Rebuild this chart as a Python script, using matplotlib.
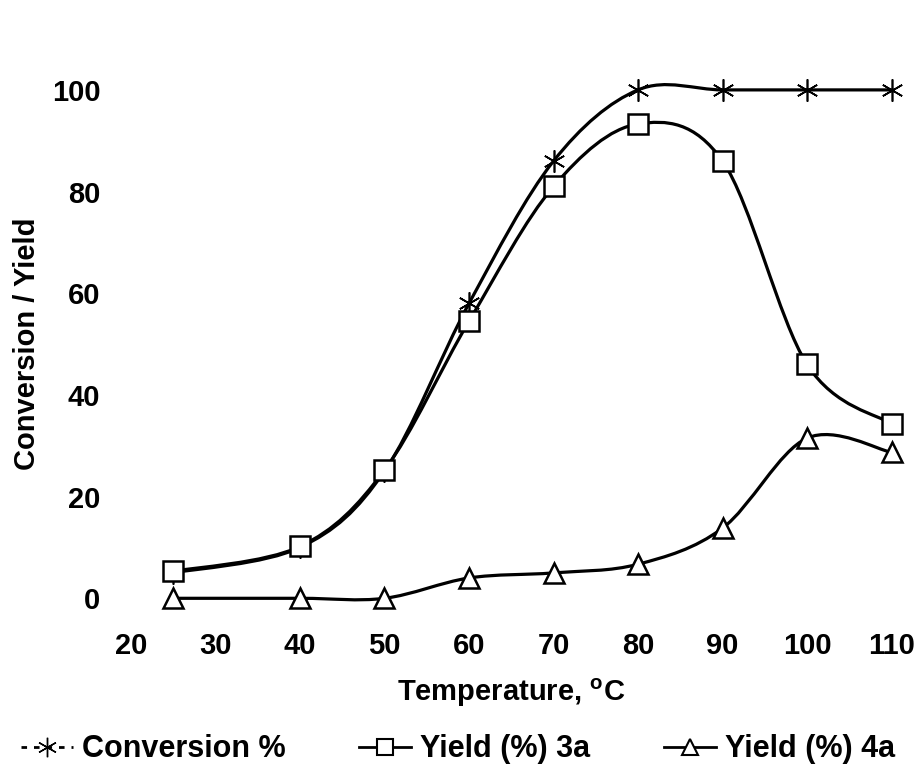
import matplotlib.pyplot as plt
import numpy as np
from matplotlib.path import Path
from matplotlib.patches import PathPatch
from matplotlib.lines import Line2D

plt.rcParams['font.family'] = ['Liberation Sans', 'DejaVu Sans']
plt.rcParams['font.weight'] = 'bold'

# Data
temperature = [25, 40, 50, 60, 70, 80, 90, 100, 110]
conversion = [5, 10, 25, 58, 86, 100, 100, 100, 100]
yield_3a = [5.3, 10.2, 25.2, 54.5, 81, 93.3, 86, 46, 34.3]
yield_4a = [0, 0, 0, 4, 5, 6.7, 13.8, 31.5, 28.7]


def smooth_path(x, y):
    # Excel-style smoothed line: cubic Bezier segments through every point
    pts = np.column_stack([x, y]).astype(float)
    n = len(pts)
    verts = [pts[0]]
    codes = [Path.MOVETO]
    for i in range(n - 1):
        p0 = pts[i - 1] if i > 0 else pts[i]
        p1 = pts[i]
        p2 = pts[i + 1]
        p3 = pts[i + 2] if i + 2 < n else pts[i + 1]
        c1 = p1 + (p2 - p0) / 6
        c2 = p2 - (p3 - p1) / 6
        verts += [c1, c2, p2]
        codes += [Path.CURVE4] * 3
    return Path(verts, codes)


fig = plt.figure(figsize=(9.22, 7.75), dpi=100)
ax = fig.add_axes([0.142, 0.228, 0.825, 0.656])

lw = 2.3
for ys, z in [(conversion, 2), (yield_3a, 3), (yield_4a, 3)]:
    ax.add_patch(PathPatch(smooth_path(temperature, ys), fill=False,
                           edgecolor='black', lw=lw, zorder=z, clip_on=False))

star = (6, 2, 0)
ax.plot(temperature, conversion, linestyle='none', marker=star, ms=16,
        mec='black', mew=1.2, zorder=4, clip_on=False)
ax.plot(temperature, yield_3a, linestyle='none', marker='s', ms=14,
        mfc='white', mec='black', mew=1.8, zorder=5, clip_on=False)
ax.plot(temperature, yield_4a, linestyle='none', marker='^', ms=15,
        mfc='white', mec='black', mew=1.8, zorder=5, clip_on=False)

ax.set_xlim(20, 110)
ax.set_ylim(0, 100)
ax.set_xticks(range(20, 111, 10))
ax.set_yticks(range(0, 101, 20))
ax.tick_params(axis='both', length=0, labelsize=21)
ax.tick_params(axis='x', pad=24)
ax.tick_params(axis='y', pad=22)
for s in ax.spines.values():
    s.set_visible(False)

ax.set_xlabel('Temperature, $\\mathregular{^o}$C', fontsize=21,
              fontweight='bold', labelpad=12)
ax.set_ylabel('Conversion / Yield', fontsize=21, fontweight='bold')
ax.yaxis.set_label_coords(-0.118, 0.5)

handles = [
    Line2D([], [], color='black', lw=2, ls=(0, (2, 2.5)), marker=star, ms=14, mew=1),
    Line2D([], [], color='black', lw=2, marker='s', ms=11, mfc='white', mec='black', mew=1.5),
    Line2D([], [], color='black', lw=2, marker='^', ms=12, mfc='white', mec='black', mew=1.5),
]
labels = ['Conversion %', 'Yield (%) 3a', 'Yield (%) 4a']
fig.legend(handles, labels, loc='center', bbox_to_anchor=(0.497, 0.033),
           ncol=3, frameon=False, fontsize=22, handlelength=1.7,
           handletextpad=0.3, columnspacing=2.4)

fig.savefig('out.png', dpi=100)
